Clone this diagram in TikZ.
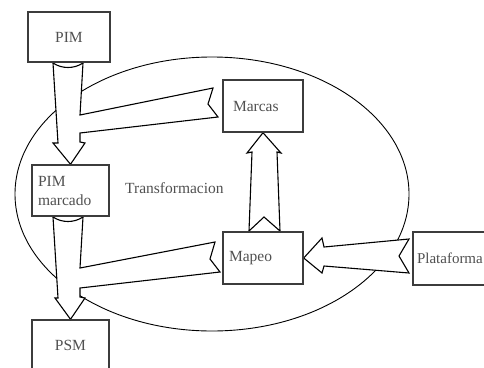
\documentclass[tikz,border=0pt]{standalone}
\usepackage{fontspec}
\setmainfont{Liberation Serif}
\definecolor{boxline}{HTML}{3C3C3C}
\definecolor{boxtext}{HTML}{505050}
\tikzset{
  model/.style={draw=boxline, line width=1.4pt, fill=white, rectangle,
    text=boxtext, font=\fontsize{15.5}{19}\selectfont, inner ysep=0pt},
  leftbox/.style={model, align=left},
  blockarrow/.style={draw=black, line width=1.1pt, fill=white, line join=miter},
  region/.style={draw=black, line width=0.9pt}
}
\begin{document}
\begin{tikzpicture}[x=1pt, y=-1pt]
  \useasboundingbox (0,0) rectangle (484,367);

  % transformation region
  \draw[region] (212,194) ellipse [x radius=197pt, y radius=137pt];

  % model boxes
  \node[model, minimum width=82pt, minimum height=50pt] (pim) at (69,37) {PIM};
  \node[leftbox, text width=65pt, inner xsep=6pt, minimum height=51pt] (pimm) at (70.5,190.5) {PIM\\marcado};
  \node[model, minimum width=77pt, minimum height=50pt] (psm) at (70.5,345) {PSM};
  \node[leftbox, text width=60pt, inner xsep=10pt, minimum height=52pt] (marcas) at (263,106) {Marcas};
  \node[leftbox, text width=68pt, inner xsep=6pt, minimum height=52pt] (mapeo) at (263,258) {Mapeo};
  \node[leftbox, text width=76pt, inner xsep=4pt, minimum height=53pt,
        font=\fontsize{15}{19}\selectfont] (plat) at (455,258.5) {Plataforma};
  \node[text=boxtext, font=\fontsize{15.5}{19}\selectfont, anchor=base west, inner sep=0pt] (trans) at (125,193) {Transformacion};

  % PIM + Marcas -> PIM marcado
  \draw[blockarrow] (53,63) .. controls (62,69) and (74,69) .. (83,63)
    -- (80,115) -- (213,88) -- (208,104) -- (218,117) -- (80,133)
    -- (80,142) -- (85,143) -- (pimm.north) -- (53,143) -- (58,143) -- cycle;

  % PIM marcado + Mapeo -> PSM
  \draw[blockarrow] (53,217) .. controls (62,223) and (74,223) .. (83,217)
    -- (80,268) -- (215,242) -- (210,259) -- (220,272) -- (80,288)
    -- (80,297) -- (85,298) -- (psm.north) -- (55,298) -- (58,298) -- cycle;

  % Mapeo -> Marcas
  \draw[blockarrow] (marcas.south) -- (281,153) -- (277,152) -- (280,231)
    -- (264,217) -- (249,231) -- (252,152) -- (247,153) -- cycle;

  % Plataforma -> Mapeo
  \draw[blockarrow] (mapeo.east) -- (322,238) -- (324,247) -- (409,239)
    -- (399,256) -- (409,273) -- (324,266) -- (322,273) -- cycle;

  % redraw box outlines on top of arrow tips
  \foreach \b in {pim,pimm,psm,marcas,mapeo,plat}
    \draw[boxline, line width=1.4pt] (\b.north west) rectangle (\b.south east);
\end{tikzpicture}
\end{document}
